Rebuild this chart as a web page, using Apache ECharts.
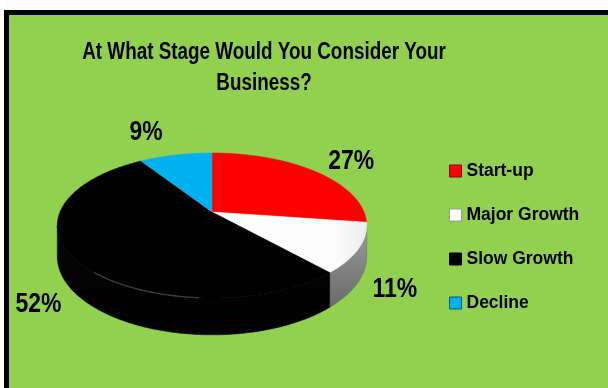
<!DOCTYPE html>
<html>
<head>
<meta charset="utf-8">
<script src="https://cdn.jsdelivr.net/npm/echarts@6/dist/echarts.min.js"></script>
<style>
  html, body { margin: 0; padding: 0; background: #ffffff; }
  #chart { width: 608px; height: 388px; }
</style>
</head>
<body>
<div id="chart"></div>
<script>
// Survey answers: share of respondents per business stage (percent)
const categories = ['Start-up', 'Major Growth', 'Slow Growth', 'Decline'];
const shares = [27, 11, 52, 9];
const titleLines = ['At What Stage Would You Consider Your', 'Business?'];

// Colours of each slice: top face, outer wall (light -> dark)
const topColors = ['#FF0000', '#FFFFFF', '#000000', '#00B0F0'];
const wallColors = [['#d00000', '#8a0000'], ['#9c9c9c', '#6a6a6a'], ['#050505', '#000000'], ['#0090c8', '#005f88']];

// Tilted-disc projection of the pie
const PIE = { cx: 212, cy: 212, rx: 152, ry: 70, persp: 0.186, depth: 30 };
const FONT = "'Liberation Sans', Arial, sans-serif";
const NARROW = 0.82;          // horizontal squeeze giving a condensed face
const LABEL_SIZE = 28;
const labelShift = [[4, 3], [2, 0], [-4, -1], [-15, 0]];

const total = shares.reduce((s, v) => s + v, 0);
const starts = [];
shares.reduce((acc, v, i) => { starts[i] = acc; return acc + v; }, 0);

const rad = d => d * Math.PI / 180;

// Angle t in degrees, clockwise from the back of the disc; r is radius fraction, h 0 = top, 1 = bottom
function proj(t, r, h) {
  const s = Math.sin(rad(t)), c = Math.cos(rad(t));
  const den = 1 + PIE.persp * r * c;
  return [
    PIE.cx + PIE.rx * r * s / den,
    PIE.cy - PIE.ry * r * c / den + PIE.depth * h / den
  ];
}

function arc(a, b, h) {
  const pts = [];
  const n = Math.max(2, Math.ceil(Math.abs(b - a)));
  for (let k = 0; k <= n; k++) pts.push(proj(a + (b - a) * k / n, 1, h));
  return pts;
}

// Outer wall is visible between the two silhouette angles
const silhouette = Math.acos(-PIE.persp) * 180 / Math.PI;
const visFrom = silhouette, visTo = 360 - silhouette;

function makeRender(i) {
  return function (params, api) {
    const value = api.value(0);
    const a = starts[i] / total * 360;
    const b = a + value / total * 360;
    const children = [];

    // outer wall
    const wa = Math.max(a, visFrom), wb = Math.min(b, visTo);
    if (wb > wa) {
      const top = arc(wa, wb, 0);
      const bottom = arc(wa, wb, 1).reverse();
      children.push({
        type: 'polygon', z2: 1,
        shape: { points: top.concat(bottom) },
        style: {
          fill: new echarts.graphic.LinearGradient(0, 0, 0, 1, [
            { offset: 0, color: wallColors[i][0] },
            { offset: 1, color: wallColors[i][1] }
          ]),
          stroke: wallColors[i][1], lineWidth: 0.5
        }
      });
      if (i === 2) {
        // soft sheen along the front rim of the dark slice
        children.push({
          type: 'polyline', z2: 12,
          shape: { points: arc(Math.max(wa, 184), Math.min(wb, 222), 0) },
          style: { stroke: 'rgba(110,110,110,0.5)', lineWidth: 1.4, fill: null }
        });
      }
    }

    // top face
    const face = [proj(0, 0, 0)].concat(arc(a, b, 0));
    children.push({
      type: 'polygon', z2: 10,
      shape: { points: face },
      style: {
        fill: i === 1
          ? new echarts.graphic.LinearGradient(0, 0, 1, 0, [
              { offset: 0, color: '#ffffff' }, { offset: 0.8, color: '#fcfcfc' }, { offset: 1, color: '#ececec' }
            ])
          : topColors[i],
        stroke: topColors[i], lineWidth: 0.5
      }
    });

    // percentage label outside the slice
    const mid = (a + b) / 2;
    const front = Math.cos(rad(mid)) < 0;
    const rim = proj(mid, 1, front ? 1 : 0);
    let dx = Math.sin(rad(mid)), dy = -Math.cos(rad(mid)) * PIE.ry / PIE.rx;
    const len = Math.hypot(dx, dy); dx /= len; dy /= len;
    const text = value + '%';
    const halfW = 0.55 * LABEL_SIZE * text.length / 2, halfH = 0.75 * LABEL_SIZE / 2;
    const reach = Math.abs(dx) * halfW + Math.abs(dy) * halfH + 10;
    children.push({
      type: 'text', z2: 20,
      x: rim[0] + dx * reach + labelShift[i][0],
      y: rim[1] + dy * reach + labelShift[i][1],
      scaleX: NARROW,
      style: {
        text: text, fill: '#000000', font: 'bold ' + LABEL_SIZE + 'px ' + FONT,
        align: 'center', verticalAlign: 'middle'
      }
    });

    return { type: 'group', children: children };
  };
}

const chart = echarts.init(document.getElementById('chart'), null, { renderer: 'canvas' });

chart.setOption({
  animation: false,
  backgroundColor: '#ffffff',
  graphic: [{
    type: 'rect', z: -10, silent: true,
    shape: { x: 6.5, y: 12.5, width: 640, height: 420 },
    style: { fill: '#92D050', stroke: '#000000', lineWidth: 5 }
  }, {
    // chart heading, set in a condensed bold face
    type: 'text', silent: true, z: 5,
    x: 264, y: 37, scaleX: NARROW,
    style: {
      text: titleLines.join('\n'),
      font: 'bold 23px ' + FONT, lineHeight: 31,
      fill: '#000000', align: 'center', verticalAlign: 'top'
    }
  }],
  legend: {
    orient: 'vertical', left: 449, top: 161, padding: 0,
    itemWidth: 12, itemHeight: 12, itemGap: 24, icon: 'rect',
    selectedMode: false,
    textStyle: { fontFamily: FONT, fontWeight: 'bold', fontSize: 17.5, lineHeight: 20, color: '#000000' },
    data: categories.map((name, i) => ({
      name: name,
      itemStyle: { color: topColors[i], borderColor: i === 1 ? '#9a9a9a' : wallColors[i][1], borderWidth: 1 }
    }))
  },
  series: categories.map((name, i) => ({
    type: 'custom', name: name, coordinateSystem: 'none',
    itemStyle: { color: topColors[i] },
    renderItem: makeRender(i),
    data: [[shares[i]]]
  }))
});
</script>
</body>
</html>
